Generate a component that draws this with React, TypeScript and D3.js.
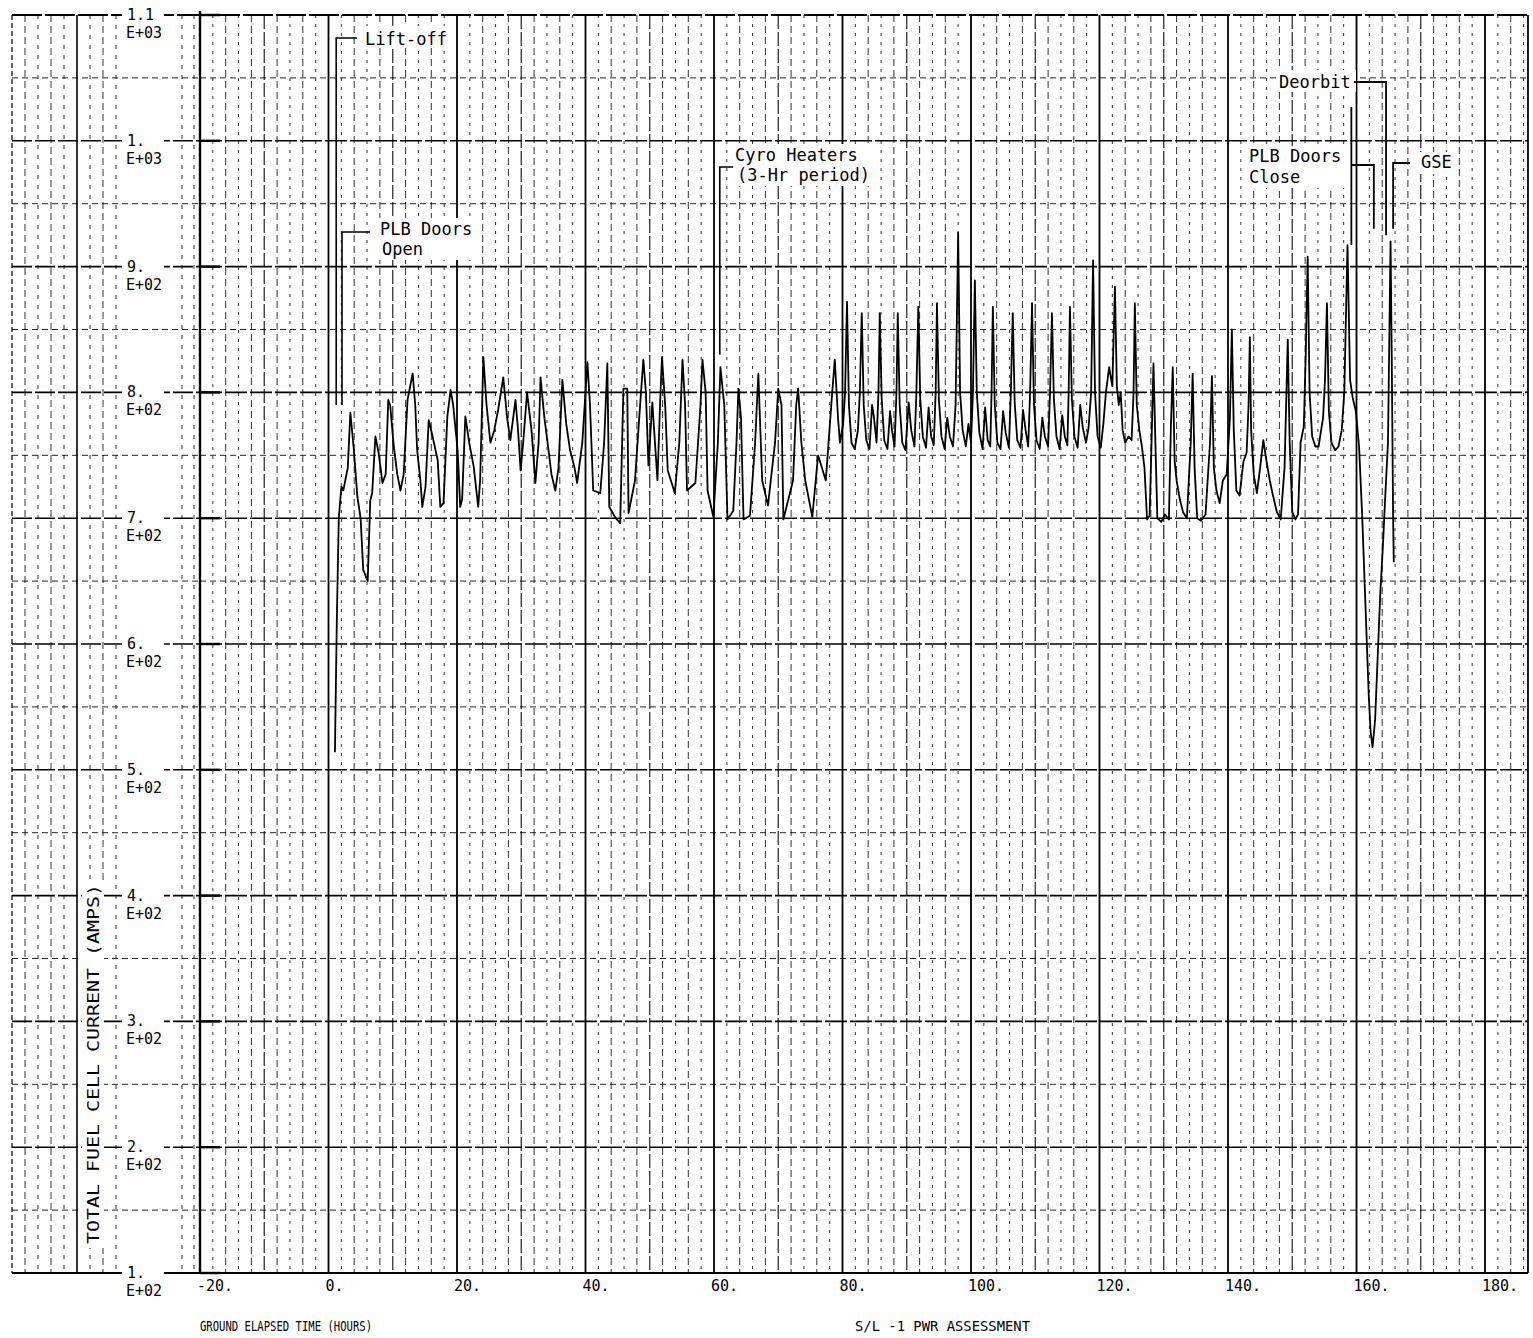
import React from "react";
import * as d3 from "d3";

const xTicks = [-20, 0, 20, 40, 60, 80, 100, 120, 140, 160, 180];
const xTickLabels = ["-20.", "0.", "20.", "40.", "60.", "80.", "100.", "120.", "140.", "160.", "180."];
const yTicks = [1100, 1000, 900, 800, 700, 600, 500, 400, 300, 200, 100];
const yTickMantissa = ["1.1", "1.", "9.", "8.", "7.", "6.", "5.", "4.", "3.", "2.", "1."];
const yTickExponent = ["E+03", "E+03", "E+02", "E+02", "E+02", "E+02", "E+02", "E+02", "E+02", "E+02", "E+02"];

// [ground elapsed time (hours), total fuel cell current (amps)]
const ascentPhase: [number, number][] = [
  [1.0, 514], [1.3, 620], [1.6, 700], [2.0, 725], [2.3, 722], [3.0, 740], [3.4, 784], [3.9, 757],
  [4.5, 717], [5.0, 700], [5.4, 659], [6.1, 650], [6.5, 714], [6.8, 720], [7.3, 765], [7.8, 752],
  [8.4, 728], [8.9, 735], [9.3, 794], [9.6, 790], [10.1, 760], [10.7, 735], [11.2, 722], [11.7, 735],
  [12.3, 794], [13.1, 815], [13.5, 790], [13.8, 754], [14.3, 730], [14.6, 709], [15.1, 725], [15.6, 778],
  [16.2, 765], [17.0, 746], [17.4, 709], [17.9, 712], [18.5, 781], [19.0, 802], [19.4, 790], [20.1, 754],
  [20.5, 709], [20.8, 715], [21.3, 781], [21.9, 760], [22.6, 741], [23.3, 709], [23.6, 730], [24.1, 828],
  [24.6, 790], [25.2, 760], [25.8, 770], [26.4, 786], [27.2, 812], [27.8, 780], [28.3, 762], [29.1, 794],
  [29.5, 770], [29.9, 738], [30.3, 760], [30.9, 800], [31.6, 770], [32.2, 728], [32.7, 760], [33.0, 812],
  [33.6, 780], [34.1, 760], [34.7, 735], [35.3, 722], [35.8, 740], [36.4, 810], [37.0, 775], [37.6, 754],
  [38.3, 740], [38.7, 728], [39.5, 760], [40.3, 824], [40.7, 790], [41.2, 722], [42.3, 720], [42.9, 760],
  [43.4, 823], [43.7, 709], [44.7, 700], [45.4, 696], [45.7, 760], [45.9, 803], [46.5, 803], [46.7, 704],
  [47.7, 730], [48.5, 790], [49.0, 826], [49.4, 800], [49.8, 742], [50.4, 792], [51.2, 730], [51.6, 790],
  [51.9, 828], [52.4, 790], [52.8, 738], [53.9, 720], [54.6, 760], [55.1, 826], [55.5, 790], [55.8, 722],
  [57.1, 728], [57.9, 790], [58.2, 826], [58.7, 800], [59.0, 722], [59.9, 701], [60.6, 760], [61.0, 820],
  [61.6, 790], [62.1, 699], [63.0, 706], [63.5, 760], [63.8, 803], [64.2, 780], [64.6, 699], [65.6, 702],
  [66.4, 760], [66.9, 815], [67.5, 730], [68.4, 710], [69.5, 760], [70.0, 803], [70.5, 790], [70.8, 699],
  [72.3, 730], [72.8, 790], [73.1, 803], [73.6, 760], [74.2, 730], [75.3, 701], [76.2, 750], [77.4, 730],
  [78.4, 800], [78.8, 826], [79.3, 780], [79.6, 760],
];

const orbitPhase: [number, number][] = [
  [80.1, 775], [80.4, 800], [80.7, 872], [81.0, 790], [81.4, 760], [81.9, 755], [82.4, 770], [82.7, 800],
  [83.0, 863], [83.3, 790], [83.7, 762], [84.2, 755], [84.6, 790], [84.9, 780], [85.3, 760], [85.6, 800],
  [85.8, 863], [86.1, 795], [86.5, 762], [87.0, 755], [87.4, 785], [87.7, 770], [88.1, 757], [88.4, 800],
  [88.6, 863], [88.9, 790], [89.3, 760], [89.8, 754], [90.3, 792], [90.7, 770], [91.2, 757], [91.5, 800],
  [91.8, 868], [92.1, 795], [92.5, 765], [93.0, 756], [93.4, 788], [93.8, 765], [94.2, 758], [94.5, 800],
  [94.7, 871], [95.0, 795], [95.4, 765], [95.9, 755], [96.3, 780], [96.7, 765], [97.2, 757], [97.6, 790],
  [98.0, 927], [98.3, 800], [98.7, 770], [99.2, 757], [99.6, 775], [100.0, 760], [100.3, 800], [100.6, 889],
  [100.9, 800], [101.3, 768], [101.8, 755], [102.2, 788], [102.6, 762], [103.0, 757], [103.2, 800], [103.4, 868],
  [103.7, 790], [104.1, 760], [104.6, 755], [105.0, 785], [105.4, 768], [105.9, 756], [106.2, 800], [106.5, 863],
  [106.8, 792], [107.2, 762], [107.7, 756], [108.1, 786], [108.5, 770], [108.9, 757], [109.2, 800], [109.5, 871],
  [109.8, 790], [110.2, 762], [110.7, 755], [111.1, 780], [111.5, 765], [112.0, 757], [112.3, 800], [112.6, 863],
  [112.9, 795], [113.3, 765], [113.8, 755], [114.2, 782], [114.6, 765], [115.0, 758], [115.2, 800], [115.4, 868],
  [115.7, 795], [116.1, 765], [116.6, 756], [117.0, 790], [117.4, 772], [117.9, 760], [118.3, 772], [118.7, 800],
  [119.0, 905], [119.3, 800], [119.7, 765], [120.2, 756], [120.6, 775], [121.0, 800], [121.5, 820], [122.0, 805],
  [122.4, 884], [122.7, 805], [123.0, 790], [123.3, 800], [123.6, 770], [124.0, 760], [124.5, 765], [125.0, 762],
  [125.3, 800], [125.5, 871], [125.8, 790], [126.2, 770], [126.6, 757], [127.0, 740],
];

const descentPhase: [number, number][] = [
  [127.4, 699], [127.8, 702], [128.1, 760], [128.4, 823], [128.7, 760], [129.0, 700], [129.6, 697], [130.2, 703],
  [130.8, 699], [131.1, 770], [131.4, 820], [131.7, 745], [132.0, 730], [132.5, 715], [133.0, 705], [133.6, 700],
  [134.2, 760], [134.5, 815], [134.8, 740], [135.2, 700], [135.8, 698], [136.5, 703], [137.2, 760], [137.5, 813],
  [137.8, 740], [138.2, 722], [138.7, 712], [139.2, 730], [139.8, 735], [140.3, 780], [140.6, 850], [140.9, 770],
  [141.3, 722], [141.8, 718], [142.4, 745], [142.9, 752], [143.2, 790], [143.4, 844], [143.6, 770], [144.0, 735],
  [144.5, 720], [145.0, 740], [145.5, 762], [146.0, 745], [146.5, 730], [147.0, 718], [147.6, 705], [148.2, 699],
  [148.8, 740], [149.1, 800], [149.3, 842], [149.6, 760], [150.0, 705], [150.5, 699], [150.9, 703], [151.3, 760],
  [151.8, 773], [152.1, 830], [152.4, 908], [152.7, 800], [153.1, 765], [153.6, 757], [154.1, 757], [154.8, 780],
  [155.1, 810], [155.4, 871], [155.7, 785], [156.1, 760], [156.7, 754], [157.2, 757], [157.7, 770], [158.1, 800],
  [158.6, 917], [159.0, 810], [159.4, 796], [159.9, 785], [160.4, 757], [160.9, 700], [161.4, 630], [161.9, 560],
  [162.2, 530], [162.5, 518], [162.9, 540], [163.3, 590], [163.7, 640], [164.1, 677], [164.5, 720], [164.9, 760],
  [165.1, 840], [165.3, 920], [165.5, 820], [165.7, 700], [165.8, 665],
];

const W = 1533;
const H = 1338;
const FONT = "'DejaVu Sans Mono', 'Liberation Mono', monospace";

export default function App() {
  const x = d3.scaleLinear().domain([-20, 180]).range([200, 1485]);
  const y = d3.scaleLinear().domain([100, 1100]).range([1273, 15]);
  const plotLeft = x(-20);
  const plotRight = 1528;
  const top = y(1100);
  const bottom = y(100);
  const stripLeft = 12;

  const series = [...ascentPhase, ...orbitPhase, ...descentPhase];
  const line = d3.line<[number, number]>().x((d) => x(d[0])).y((d) => y(d[1]));

  const vGrid = d3.range(-18, 188, 2).filter((t) => x(t) < plotRight - 3);
  const hGrid = d3.range(150, 1100, 50);

  const stripCols = [25, 38, 51, 64, 90, 103, 116, 182, 194];

  return (
    <svg width={W} height={H} style={{ position: "absolute", left: 0, top: 0, background: "#fff" }}>
      <rect width={W} height={H} fill="#fff" />
      {/* main grid verticals */}
      {vGrid.map((t) => {
        const major = t % 20 === 0;
        const mid = t % 10 === 0;
        return (
          <line
            key={"v" + t}
            x1={x(t)}
            x2={x(t)}
            y1={top}
            y2={bottom}
            stroke="#000"
            strokeWidth={major ? 1.8 : mid ? 1.3 : 1}
            strokeDasharray={major ? undefined : mid ? "14,3" : t % 4 === 0 ? "7,4" : "3,6"}
            opacity={major ? 1 : 0.8}
          />
        );
      })}
      {/* main grid horizontals */}
      {hGrid.map((v) => (
        <line
          key={"h" + v}
          x1={plotLeft}
          x2={plotRight}
          y1={y(v)}
          y2={y(v)}
          stroke="#000"
          strokeWidth={v % 100 === 0 ? 1.6 : 1}
          strokeDasharray={v % 100 === 0 ? "22,3" : "6,4"}
          opacity={v % 100 === 0 ? 1 : 0.85}
        />
      ))}
      {/* frame */}
      <line x1={stripLeft} x2={plotRight} y1={top} y2={top} stroke="#000" strokeWidth={1.8} strokeDasharray="30,3" />
      <line x1={stripLeft} x2={plotRight} y1={bottom} y2={bottom} stroke="#000" strokeWidth={2} />
      <line x1={plotLeft} x2={plotLeft} y1={top - 4} y2={bottom} stroke="#000" strokeWidth={2.4} />
      <line x1={plotRight} x2={plotRight} y1={top} y2={bottom} stroke="#000" strokeWidth={1.8} />
      {yTicks.map((v) => (
        <line key={"tk" + v} x1={plotLeft} x2={plotLeft + 20} y1={y(v)} y2={y(v)} stroke="#000" strokeWidth={2.4} />
      ))}

      {/* left strip */}
      <line x1={stripLeft} x2={stripLeft} y1={top} y2={bottom} stroke="#000" strokeWidth={1.2} strokeDasharray="5,3" />
      <line x1={77} x2={77} y1={top} y2={bottom} stroke="#000" strokeWidth={1.6} />
      {stripCols.map((cx) => (
        <line key={"sc" + cx} x1={cx} x2={cx} y1={top} y2={bottom} stroke="#000" strokeWidth={1} strokeDasharray={cx % 2 === 0 ? "4,6" : "7,4"} opacity={0.8} />
      ))}
      {hGrid.map((v) =>
        v % 100 === 0 ? (
          <line key={"sh" + v} x1={stripLeft} x2={plotLeft} y1={y(v)} y2={y(v)} stroke="#000" strokeWidth={1.6} strokeDasharray="20,3" />
        ) : (
          <line key={"sh" + v} x1={stripLeft} x2={plotLeft} y1={y(v)} y2={y(v)} stroke="#000" strokeWidth={1} strokeDasharray="6,4" opacity={0.85} />
        )
      )}
      {yTicks.map((v, i) => (
        <g key={"yl" + v} fontFamily={FONT} fontSize={15} fill="#000">
          <rect x={122} y={y(v) - 8} width={42} height={16} fill="#fff" />
          <rect x={124} y={y(v) + 9} width={50} height={17} fill="#fff" />
          <text x={127} y={y(v) + 5}>{yTickMantissa[i]}</text>
          <text x={126} y={y(v) + 23}>{yTickExponent[i]}</text>
        </g>
      ))}
      <rect x={82} y={880} width={22} height={368} fill="#fff" />
      <text
        transform={`translate(99, ${1064}) rotate(-90)`}
        textAnchor="middle"
        fontFamily={FONT}
        fontSize={15}
        textLength={360}
        lengthAdjust="spacingAndGlyphs"
      >
        TOTAL FUEL CELL CURRENT (AMPS)
      </text>

      {/* x tick labels */}
      {xTicks.map((t, i) => (
        <g key={"xl" + t}>
          <rect x={x(t) - 4} y={bottom + 4} width={xTickLabels[i].length * 9 + 4} height={16} fill="#fff" />
          <text x={x(t) - 3} y={bottom + 18} fontFamily={FONT} fontSize={15}>
            {xTickLabels[i]}
          </text>
        </g>
      ))}

      <text x={200} y={1331} fontFamily={FONT} fontSize={14} textLength={172} lengthAdjust="spacingAndGlyphs">
        GROUND ELAPSED TIME (HOURS)
      </text>
      <text x={855} y={1331} fontFamily={FONT} fontSize={14} textLength={175} lengthAdjust="spacingAndGlyphs">
        S/L -1 PWR ASSESSMENT
      </text>

      {/* annotations */}
      <g fontFamily={FONT} fontSize={17} fill="#000">
        <rect x={362} y={26} width={88} height={22} fill="#fff" />
        <text x={365} y={45}>Lift-off</text>
        <path d={`M357,38 H${x(1.2)} V${y(790)}`} fill="none" stroke="#000" strokeWidth={1.6} />

        <rect x={376} y={218} width={102} height={42} fill="#fff" />
        <text x={380} y={235}>PLB Doors</text>
        <text x={382} y={255}>Open</text>
        <path d={`M370,232 H${x(2.1)} V${y(790)}`} fill="none" stroke="#000" strokeWidth={1.6} />

        <rect x={731} y={144} width={142} height={42} fill="#fff" />
        <text x={735} y={161}>Cyro Heaters</text>
        <text x={737} y={181}>(3-Hr period)</text>
        <path d={`M733,167 H${x(60.9)} V${y(830)}`} fill="none" stroke="#000" strokeWidth={1.6} />

        <rect x={1276} y={70} width={80} height={22} fill="#fff" />
        <text x={1279} y={88}>Deorbit</text>
        <path d={`M1354,82 H${x(164.6)} V${y(925)}`} fill="none" stroke="#000" strokeWidth={1.8} />

        <rect x={1246} y={146} width={100} height={42} fill="#fff" />
        <text x={1249} y={162}>PLB Doors</text>
        <text x={1249} y={183}>Close</text>
        <path d={`M${x(159.2)},107 V245`} fill="none" stroke="#000" strokeWidth={1.8} />
        <path d={`M${x(159.2)},165 H${x(162.7)} V${y(930)}`} fill="none" stroke="#000" strokeWidth={1.8} />

        <rect x={1418} y={152} width={36} height={22} fill="#fff" />
        <text x={1421} y={168}>GSE</text>
        <path d={`M1410,163 H${x(165.7)} V${y(930)}`} fill="none" stroke="#000" strokeWidth={1.8} />
      </g>

      {/* data */}
      <path d={line(series) || ""} fill="none" stroke="#000" strokeWidth={1.8} strokeLinejoin="round" />
    </svg>
  );
}
